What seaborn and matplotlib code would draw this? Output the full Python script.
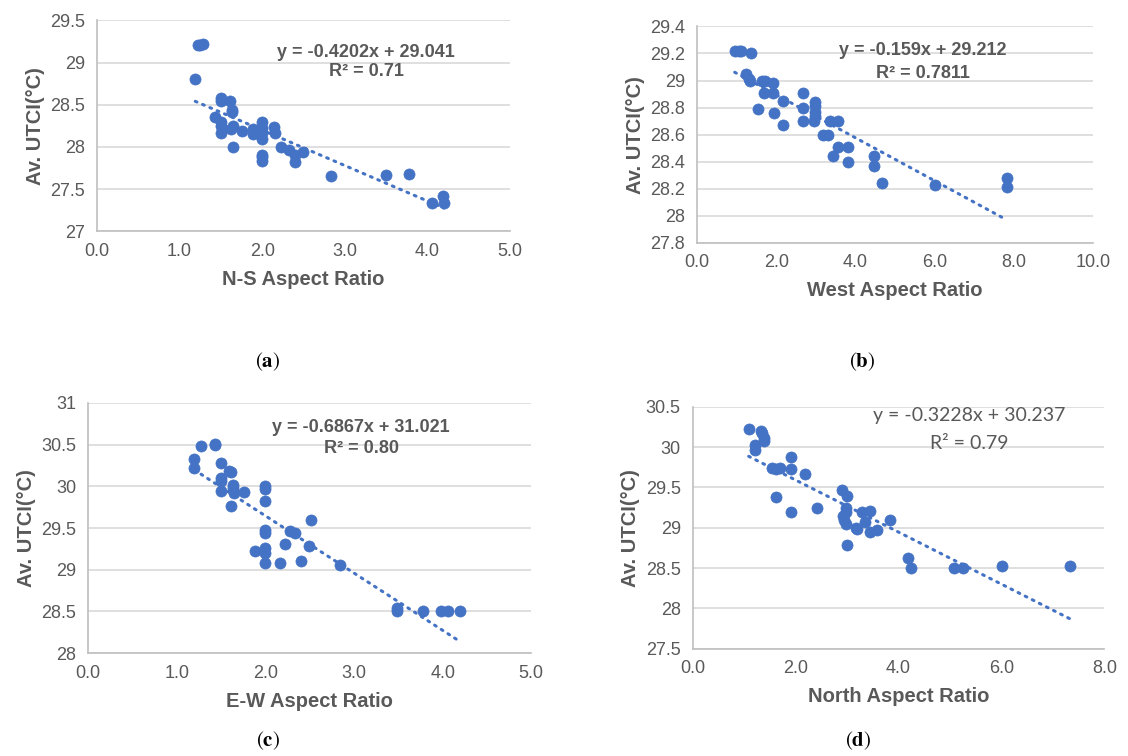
import numpy as np
import pandas as pd
import matplotlib
matplotlib.use("Agg")
import matplotlib.pyplot as plt
import seaborn as sns

# (a) N-S aspect ratio
ns_x = [1.22, 1.25, 1.28, 1.19, 1.50, 1.50, 1.61, 1.63, 1.63, 1.43, 1.50, 1.50, 1.50, 1.62,
        1.65, 1.76, 1.65, 1.89, 1.89, 2.00, 2.00, 2.00, 2.00, 2.00, 2.00, 2.00, 2.14, 2.16,
        2.23, 2.32, 2.40, 2.40, 2.50, 2.83, 3.50, 3.78, 4.06, 4.19, 4.20]
ns_y = [29.21, 29.21, 29.22, 28.81, 28.58, 28.54, 28.55, 28.44, 28.42, 28.36, 28.29, 28.25, 28.17, 28.21,
        28.25, 28.19, 28.00, 28.21, 28.15, 28.29, 28.23, 28.17, 28.10, 27.91, 27.88, 27.83, 28.24, 28.16,
        28.00, 27.96, 27.91, 27.82, 27.94, 27.65, 27.67, 27.68, 27.34, 27.42, 27.34]

# (b) West aspect ratio
w_x = [0.95, 1.05, 1.12, 1.37, 1.23, 1.32, 1.34, 1.64, 1.72, 1.91, 1.68, 1.91, 1.55, 1.95,
       2.18, 2.18, 2.67, 2.67, 2.67, 2.99, 2.99, 2.99, 2.99, 2.94, 3.35, 3.57, 3.17, 3.30,
       3.55, 3.82, 3.44, 3.81, 4.47, 4.47, 4.66, 6.00, 7.82, 7.82]
w_y = [29.22, 29.22, 29.22, 29.20, 29.05, 29.01, 29.00, 29.00, 29.00, 28.98, 28.91, 28.91, 28.79, 28.76,
       28.85, 28.67, 28.91, 28.80, 28.70, 28.84, 28.81, 28.77, 28.74, 28.70, 28.70, 28.70, 28.60, 28.60,
       28.51, 28.51, 28.44, 28.40, 28.44, 28.37, 28.24, 28.23, 28.28, 28.21]

# (c) E-W aspect ratio
ew_x = [1.20, 1.20, 1.28, 1.43, 1.43, 1.50, 1.50, 1.50, 1.50, 1.59, 1.61, 1.63, 1.64, 1.65,
        1.61, 1.76, 2.00, 2.00, 2.00, 2.00, 2.00, 1.88, 2.00, 2.00, 2.00, 2.17, 2.22, 2.28,
        2.33, 2.40, 2.49, 2.51, 2.84, 3.49, 3.49, 3.78, 3.98, 4.06, 4.20]
ew_y = [30.33, 30.22, 30.48, 30.51, 30.49, 30.28, 30.10, 30.07, 29.94, 30.19, 30.17, 30.02, 29.98, 29.92,
        29.77, 29.93, 30.00, 29.97, 29.83, 29.48, 29.44, 29.23, 29.26, 29.20, 29.08, 29.08, 29.31, 29.46,
        29.44, 29.11, 29.28, 29.60, 29.06, 28.54, 28.50, 28.51, 28.50, 28.50, 28.50]

# (d) North aspect ratio
n_x = [1.09, 1.33, 1.35, 1.22, 1.22, 1.38, 1.39, 1.55, 1.63, 1.70, 1.92, 1.91, 2.19, 1.63,
       1.91, 2.42, 2.90, 3.00, 2.99, 2.99, 2.92, 2.95, 2.99, 3.00, 3.18, 3.19, 3.30, 3.35,
       3.44, 3.44, 3.58, 3.83, 4.18, 4.25, 5.07, 5.26, 6.02, 7.33]
n_y = [30.22, 30.20, 30.17, 30.03, 29.96, 30.11, 30.07, 29.74, 29.73, 29.74, 29.88, 29.73, 29.67, 29.38,
       29.19, 29.25, 29.47, 29.39, 29.24, 29.19, 29.14, 29.09, 29.05, 28.78, 29.00, 28.98, 29.19, 29.07,
       29.21, 28.95, 28.97, 29.09, 28.62, 28.50, 28.50, 28.50, 28.53, 28.53]

slopes = [-0.4202, -0.159, -0.6867, -0.3228]
intercepts = [29.041, 29.212, 31.021, 30.237]
eq_lines = ["y = -0.4202x + 29.041", "y = -0.159x + 29.212",
            "y = -0.6867x + 31.021", "y = -0.3228x + 30.237"]
r2_lines = ["R² = 0.71", "R² = 0.7811", "R² = 0.80", "R² = 0.79"]
xlabels = ["N-S Aspect Ratio", "West Aspect Ratio", "E-W Aspect Ratio", "North Aspect Ratio"]
panel_tags = ["a", "b", "c", "d"]

sns.set_style("white")
plt.rcParams["font.family"] = ["Liberation Sans", "DejaVu Sans"]
plt.rcParams["mathtext.fontset"] = "stix"

blue = "#4472C4"
grey_txt = "#595959"
grid_c = "#D9D9D9"
axis_c = "#BFBFBF"

fig = plt.figure(figsize=(11.28, 7.56), dpi=100)
positions = [[0.086, 0.694, 0.366, 0.279],
             [0.618, 0.679, 0.351, 0.286],
             [0.078, 0.136, 0.393, 0.331],
             [0.614, 0.142, 0.365, 0.320]]
xs = [ns_x, w_x, ew_x, n_x]
ys = [ns_y, w_y, ew_y, n_y]
xlims = [(0, 5), (0, 10), (0, 5), (0, 8)]
xsteps = [1, 2, 1, 2]
ylims = [(27, 29.5), (27.8, 29.4), (28, 31), (27.5, 30.5)]
ysteps = [0.5, 0.2, 0.5, 0.5]
# text centres in data coordinates: (x, y of equation line, y of R² line)
eq_pos = [(3.26, 29.12, 28.89), (5.70, 29.22, 29.05), (3.08, 30.71, 30.45), (5.38, 30.39, 30.05)]
tag_pos = [(268, 362), (862, 362), (268, 741), (858, 741)]

for i in range(4):
    ax = fig.add_axes(positions[i])
    df = pd.DataFrame({"x": xs[i], "y": ys[i]})
    sns.scatterplot(data=df, x="x", y="y", ax=ax, color=blue, s=64,
                    edgecolor=blue, linewidth=0.5, zorder=3)
    xr = np.array([min(xs[i]), max(xs[i])])
    trend = pd.DataFrame({"x": xr, "y": slopes[i] * xr + intercepts[i]})
    sns.lineplot(data=trend, x="x", y="y", ax=ax, color=blue, lw=2.2,
                 linestyle=(0, (0.6, 2.0)), dash_capstyle="round", zorder=4)

    ax.set_xlim(*xlims[i])
    ax.set_ylim(*ylims[i])
    ax.set_xticks(np.arange(xlims[i][0], xlims[i][1] + 1e-9, xsteps[i]))
    ax.set_xticklabels([f"{v:.1f}" for v in ax.get_xticks()])
    yt = np.arange(ylims[i][0], ylims[i][1] + 1e-9, ysteps[i])
    ax.set_yticks(yt)
    ax.set_yticklabels([f"{v:g}" for v in np.round(yt, 2)])
    ax.yaxis.grid(True, color=grid_c, lw=1.2)
    ax.xaxis.grid(False)
    ax.set_axisbelow(True)
    for sp in ["top", "right"]:
        ax.spines[sp].set_visible(False)
    for sp in ["left", "bottom"]:
        ax.spines[sp].set_color(axis_c)
        ax.spines[sp].set_linewidth(1.2)
    ax.tick_params(axis="both", colors=axis_c, length=5, width=1.2, direction="out",
                   labelcolor=grey_txt, labelsize=13)
    ax.set_xlabel(xlabels[i], fontsize=14.5, fontweight="bold", color=grey_txt, labelpad=7)
    ax.set_ylabel("Av. UTCI(°C)", fontsize=14.5, fontweight="bold", color=grey_txt, labelpad=4)

    ex, ey1, ey2 = eq_pos[i]
    if i < 3:
        kw = dict(fontsize=13, fontweight="bold")
    else:
        kw = dict(fontsize=14, family=["Lato", "DejaVu Sans"])
    ax.text(ex, ey1, eq_lines[i], ha="center", va="center", color=grey_txt, zorder=5, **kw)
    ax.text(ex, ey2, r2_lines[i], ha="center", va="center", color=grey_txt, zorder=5, **kw)

    tx, ty = tag_pos[i]
    fig.text(tx / 1128, 1 - ty / 756, "(" + r"$\mathbf{" + panel_tags[i] + "}$" + ")",
             ha="center", va="center", fontsize=15, color="black", family="STIXGeneral")

fig.savefig("out.png", dpi=100)
